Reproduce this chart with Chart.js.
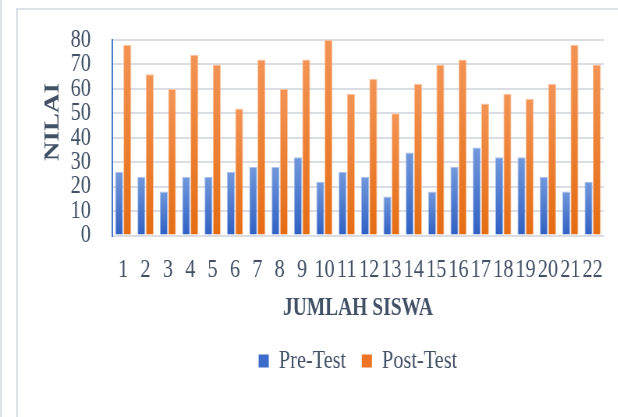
<!DOCTYPE html>
<html><head><meta charset="utf-8">
<script src="https://cdn.jsdelivr.net/npm/chart.js@4/dist/chart.umd.min.js"></script>
<style>
html,body{margin:0;padding:0;background:#fff;overflow:hidden}
#wrap{position:relative;width:618px;height:417px;overflow:hidden;background:#fff}
#c{position:absolute;left:0;top:0;transform:scaleX(0.78);transform-origin:0 0}
.f{position:absolute;background:#dfe2e9}
</style></head><body>
<div id="wrap">
<canvas id="c" width="792" height="417"></canvas>
<div class="f" style="left:0;top:0;width:2px;height:417px"></div>
<div class="f" style="left:16px;top:8px;width:2px;height:409px"></div>
<div class="f" style="left:16px;top:8px;width:602px;height:2px"></div>
</div>
<script>
const categories = ['1','2','3','4','5','6','7','8','9','10','11','12','13','14','15','16','17','18','19','20','21','22'];
const preTest  = [26,24,18,24,24,26,28,28,32,22,26,24,16,34,18,28,36,32,32,24,18,22];
const postTest = [78,66,60,74,70,52,72,60,72,80,58,64,50,62,70,72,54,58,56,62,78,70];
const yTicks = [0,10,20,30,40,50,60,70,80];
const seriesNames = ['Pre-Test','Post-Test'];
const yTitle = 'NILAI';
const xTitle = 'JUMLAH SISWA';

const SERIF = "'Times New Roman','Liberation Serif',serif";
const TXT = '#435166';

function barGrad(topCol, botCol){
  return (ctx) => {
    const chart = ctx.chart;
    const a = chart.chartArea;
    if (!a || ctx.type !== 'data') return botCol;
    const ys = chart.scales.y;
    const yTop = ys.getPixelForValue(ctx.parsed ? ctx.parsed.y : ys.max);
    const g = chart.ctx.createLinearGradient(0, a.bottom, 0, Math.min(yTop, a.bottom - 1));
    g.addColorStop(0, botCol);
    g.addColorStop(1, topCol);
    return g;
  };
}

const yTitlePlugin = {
  id: 'yTitlePlugin',
  afterDraw(chart) {
    const c = chart.ctx;
    c.save();
    c.translate(53 / 0.78, 122);
    c.rotate(-Math.PI / 2);
    c.font = "bold 27px " + SERIF;
    c.fillStyle = TXT;
    c.textAlign = 'center';
    c.textBaseline = 'middle';
    c.fillText(yTitle, 0, 0);
    c.restore();
  }
};

new Chart(document.getElementById('c'), {
  type: 'bar',
  data: {
    labels: categories,
    datasets: [
      { label: seriesNames[0], data: preTest,
        backgroundColor: barGrad('#7298dc', '#2f60c2'),
        borderColor: 'rgba(160,185,235,0.9)', borderWidth: 1,
        categoryPercentage: 0.74, barPercentage: 0.97 },
      { label: seriesNames[1], data: postTest,
        backgroundColor: barGrad('#f39455', '#e56c12'),
        borderColor: 'rgba(248,190,150,0.9)', borderWidth: 1,
        categoryPercentage: 0.74, barPercentage: 0.97 }
    ]
  },
  plugins: [yTitlePlugin],
  options: {
    responsive: false,
    animation: false,
    devicePixelRatio: 1,
    layout: { padding: { left: 0, right: 7.4, top: 38, bottom: 33 } },
    plugins: {
      tooltip: { enabled: false },
      legend: {
        position: 'bottom',
        fullSize: false,
        labels: {
          generateLabels: (chart) => chart.data.datasets.map((d, i) => ({
            text: d.label, fillStyle: i === 0 ? '#3d6bc9' : '#ec7424',
            strokeStyle: 'rgba(0,0,0,0)', lineWidth: 0, datasetIndex: i, fontColor: TXT
          })),
          font: { family: SERIF, size: 26 },
          color: TXT,
          boxWidth: 13, boxHeight: 13, padding: 20
        }
      }
    },
    scales: {
      x: {
        grid: { display: false, drawTicks: false },
        border: { display: false },
        ticks: { font: { family: SERIF, size: 26 }, color: TXT, padding: 19,
                 autoSkip: false, maxRotation: 0, minRotation: 0 },
        title: { display: true, text: xTitle,
                 font: { family: SERIF, size: 25, weight: 'bold' }, color: TXT,
                 padding: { top: 0, bottom: 4.5 } },
        afterFit: (s) => { s.height = 92.5; }
      },
      y: {
        min: 0, max: 80,
        afterBuildTicks: (s) => { s.ticks = yTicks.map(v => ({ value: v })); },
        grid: { color: '#dadde4', lineWidth: 2, drawTicks: false },
        border: { display: true, color: '#4a78cc', width: 2 },
        ticks: { font: { family: SERIF, size: 26, lineHeight: 1 }, color: TXT, padding: 27, autoSkip: false },
        title: { display: false },
        afterFit: (s) => { s.width = 143.6; }
      }
    }
  }
});
</script>
</body></html>
